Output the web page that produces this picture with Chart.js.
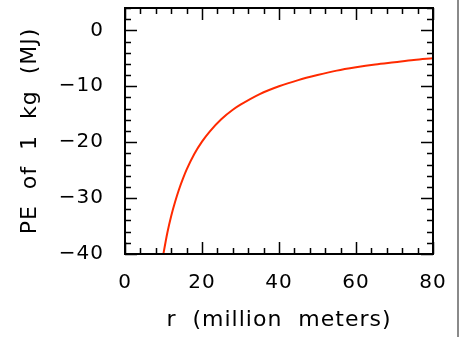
<!DOCTYPE html>
<html>
<head>
<meta charset="utf-8">
<script src="https://cdn.jsdelivr.net/npm/chart.js@4/dist/chart.umd.min.js"></script>
<style>
  html, body { margin: 0; padding: 0; background: #fff; }
  #wrap { position: relative; width: 461px; height: 337px; }
</style>
</head>
<body>
<div id="wrap"><canvas id="chartPE" width="461" height="337"></canvas></div>
<script>
// jarak r (juta meter) dan energi potensial per kg (MJ)
const rValues = [9.8, 10, 11, 12, 13, 14, 15, 16, 18, 20, 22, 25, 28, 30, 35, 40, 45, 50, 55, 60, 65, 70, 75, 80];
const peValues = [-40.7, -39.9, -36.2, -33.2, -30.7, -28.5, -26.6, -24.9, -22.1, -19.9, -18.1, -15.9, -14.2, -13.3, -11.4, -10.0, -8.9, -8.0, -7.2, -6.6, -6.1, -5.7, -5.3, -5.0];

const xTicks = [0, 20, 40, 60, 80];
const yTicks = [-40, -30, -20, -10, 0];

const FONT = "'DejaVu Sans', Verdana, sans-serif";

// huruf di gambar asli lebar-lebar, jadi kasih jarak antar huruf
const spacingPlugin = {
    id: "letterSpacing",
    beforeInit(chart) { chart.ctx.letterSpacing = "1px"; },
    beforeDraw(chart) { chart.ctx.letterSpacing = "1px"; },
};

// frame + tick kecil ke arah dalam, di keempat sisi
const framePlugin = {
    id: "frameTicks",
    afterDraw(chart) {
        const { ctx, chartArea: a, scales } = chart;
        const x = scales.x, y = scales.y;
        ctx.save();
        ctx.strokeStyle = "#000";
        ctx.lineWidth = 2;
        ctx.strokeRect(a.left, a.top, a.right - a.left, a.bottom - a.top);
        ctx.lineWidth = 1.5;
        ctx.beginPath();
        for (let v = 0; v <= 80; v += 4) {
            const px = Math.round(x.getPixelForValue(v)) + 0.5;
            const len = v % 20 === 0 ? 12 : 6;
            ctx.moveTo(px, a.bottom); ctx.lineTo(px, a.bottom - len);
            ctx.moveTo(px, a.top); ctx.lineTo(px, a.top + len);
        }
        for (let v = -40; v <= 4; v += 2) {
            const py = Math.round(y.getPixelForValue(v)) + 0.5;
            const len = v % 10 === 0 ? 12 : 6;
            ctx.moveTo(a.left, py); ctx.lineTo(a.left + len, py);
            ctx.moveTo(a.right, py); ctx.lineTo(a.right - len, py);
        }
        ctx.stroke();
        // garis abu-abu di tepi kanan gambar
        ctx.fillStyle = "#8a8a8a";
        ctx.fillRect(457, 0, 2, chart.height);
        ctx.restore();
    },
};

const ctx = document.getElementById("chartPE").getContext("2d");
new Chart(ctx, {
    type: "line",
    data: {
        datasets: [
            {
                data: rValues.map((r, i) => ({ x: r, y: peValues[i] })),
                borderColor: "#ff2a00",
                borderWidth: 2,
                pointRadius: 0,
                fill: false,
                cubicInterpolationMode: "monotone",
            },
        ],
    },
    options: {
        responsive: false,
        animation: false,
        events: [],
        layout: { padding: { top: 8, right: 28, left: 0, bottom: 0 } },
        plugins: { legend: { display: false }, tooltip: { enabled: false } },
        scales: {
            x: {
                type: "linear",
                min: 0,
                max: 80,
                afterBuildTicks: (s) => { s.ticks = xTicks.map((v) => ({ value: v })); },
                afterFit: (s) => {
                    s.height = 83;
                    s.paddingLeft = 0;
                    s.paddingRight = 0;
                },
                grid: { display: false },
                border: { display: false },
                ticks: {
                    color: "#000",
                    font: { family: FONT, size: 20 },
                    padding: 9,
                    maxRotation: 0,
                    callback: (v) => String(v).replace("-", "\u2212"),
                },
                title: {
                    display: true,
                    text: "r  (million  meters)",
                    color: "#000",
                    font: { family: FONT, size: 22 },
                    padding: { top: 8, bottom: 4 },
                },
            },
            y: {
                type: "linear",
                min: -40,
                max: 4,
                afterBuildTicks: (s) => { s.ticks = yTicks.map((v) => ({ value: v })); },
                afterFit: (s) => {
                    s.width = 125;
                    s.paddingTop = 0;
                    s.paddingBottom = 0;
                },
                grid: { display: false },
                border: { display: false },
                ticks: {
                    color: "#000",
                    font: { family: FONT, size: 20 },
                    padding: 13,
                    callback: (v) => String(v).replace("-", "\u2212"),
                },
                title: {
                    display: true,
                    text: "PE  of  1  kg  (MJ)",
                    color: "#000",
                    font: { family: FONT, size: 22 },
                    padding: { top: 17, bottom: 0 },
                },
            },
        },
    },
    plugins: [spacingPlugin, framePlugin],
});
</script>
</body>
</html>
